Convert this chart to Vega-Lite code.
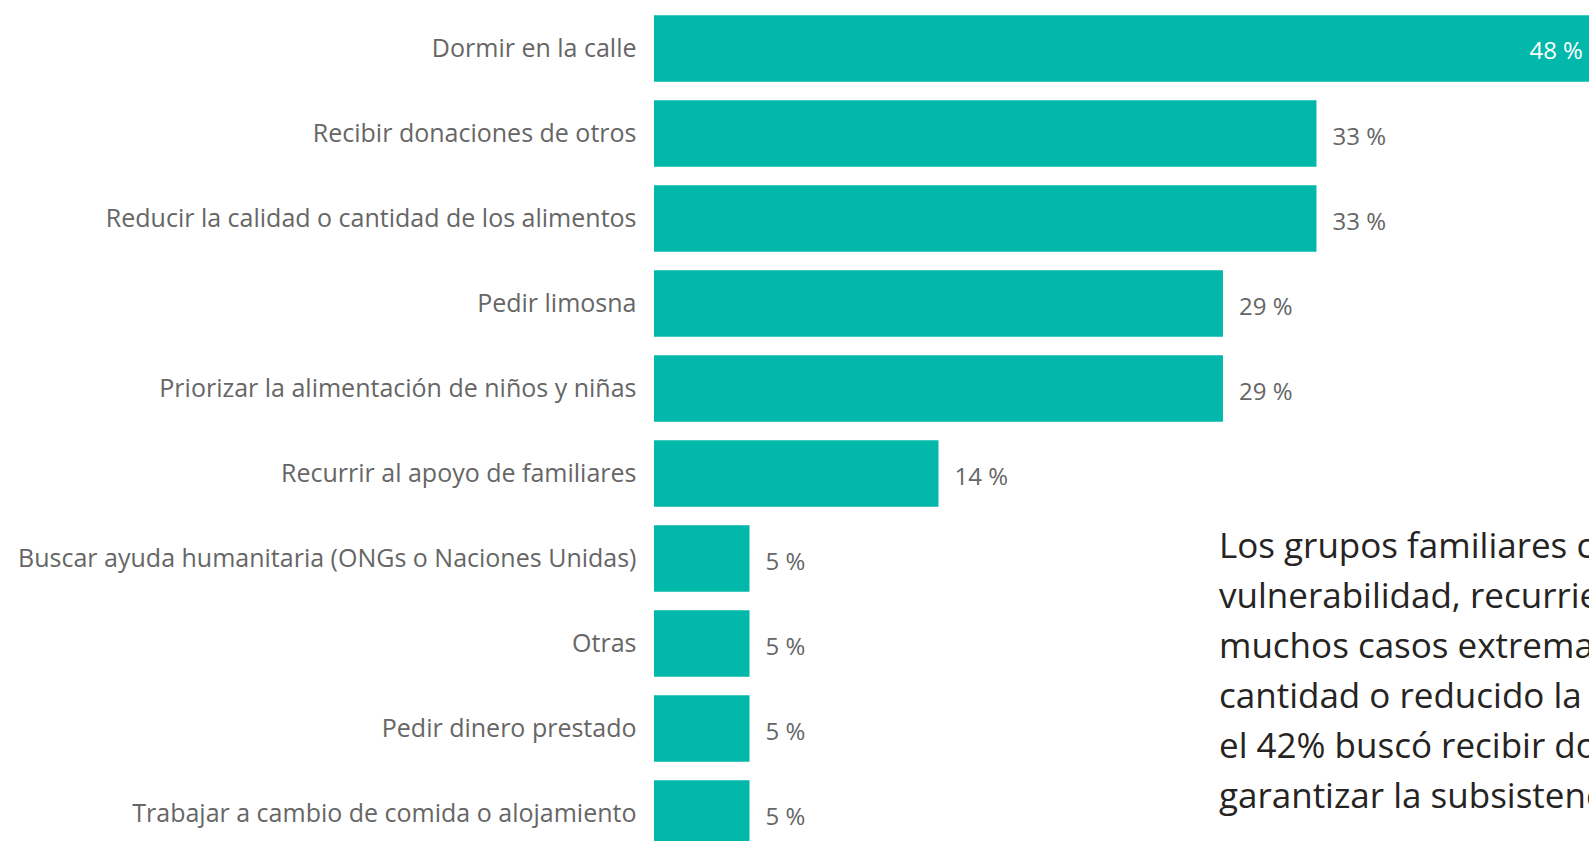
{
  "$schema": "https://vega.github.io/schema/vega-lite/v6.json",
  "width": 935,
  "height": 841,
  "autosize": "none",
  "padding": {"left": 654, "top": 0, "right": 0, "bottom": 0},
  "background": "white",
  "config": {"view": {"stroke": null}, "font": "Open Sans"},
  "datasets": {
    "bars": [
      {"cat": "Dormir en la calle", "pct": 47.6, "label": "48 %"},
      {"cat": "Recibir donaciones de otros", "pct": 33.3, "label": "33 %"},
      {"cat": "Reducir la calidad o cantidad de los alimentos", "pct": 33.3, "label": "33 %"},
      {"cat": "Pedir limosna", "pct": 28.6, "label": "29 %"},
      {"cat": "Priorizar la alimentación de niños y niñas", "pct": 28.6, "label": "29 %"},
      {"cat": "Recurrir al apoyo de familiares", "pct": 14.3, "label": "14 %"},
      {"cat": "Buscar ayuda humanitaria (ONGs o Naciones Unidas)", "pct": 4.8, "label": "5 %"},
      {"cat": "Otras", "pct": 4.8, "label": "5 %"},
      {"cat": "Pedir dinero prestado", "pct": 4.8, "label": "5 %"},
      {"cat": "Trabajar a cambio de comida o alojamiento", "pct": 4.8, "label": "5 %"}
    ],
    "note": [
      {"note": "Los grupos familiares con mayor\nvulnerabilidad, recurrieron en\nmuchos casos extremadamente a\ncantidad o reducido la calidad\nel 42% buscó recibir donaciones\ngarantizar la subsistencia."}
    ]
  },
  "layer": [
    {
      "data": {"name": "bars"},
      "mark": {"type": "bar", "color": "#01B8AA"},
      "encoding": {
        "y": {
          "field": "cat",
          "type": "nominal",
          "sort": null,
          "scale": {"range": [6, 856], "paddingInner": 0.215, "paddingOuter": 0.1075},
          "axis": {
            "title": null,
            "domain": false,
            "ticks": false,
            "grid": false,
            "labelPadding": 18,
            "labelFontSize": 25,
            "labelColor": "#666666",
            "labelFont": "Open Sans",
            "labelLimit": 1000
          }
        },
        "x": {
          "field": "pct",
          "type": "quantitative",
          "scale": {"domain": [0, 47.0], "nice": false, "zero": true},
          "axis": null
        }
      }
    },
    {
      "data": {"name": "bars"},
      "transform": [{"filter": "datum.pct < 40"}],
      "mark": {"type": "text", "align": "left", "baseline": "middle", "dx": 16, "dy": 4, "fontSize": 24, "color": "#666666"},
      "encoding": {
        "y": {"field": "cat", "type": "nominal", "sort": null},
        "x": {"field": "pct", "type": "quantitative"},
        "text": {"field": "label"}
      }
    },
    {
      "data": {"name": "bars"},
      "transform": [{"filter": "datum.pct >= 40"}],
      "mark": {"type": "text", "align": "right", "baseline": "middle", "dx": -18, "dy": 3, "fontSize": 24, "color": "#ffffff"},
      "encoding": {
        "y": {"field": "cat", "type": "nominal", "sort": null},
        "x": {"field": "pct", "type": "quantitative"},
        "text": {"field": "label"}
      }
    },
    {
      "data": {"name": "note"},
      "mark": {"type": "text", "align": "left", "baseline": "top", "lineBreak": "\n", "lineHeight": 50, "fontSize": 35, "color": "#252423", "dy": -29},
      "encoding": {
        "x": {"datum": 28.4, "type": "quantitative"},
        "y": {"datum": "Buscar ayuda humanitaria (ONGs o Naciones Unidas)", "type": "nominal"},
        "text": {"field": "note"}
      }
    }
  ]
}
